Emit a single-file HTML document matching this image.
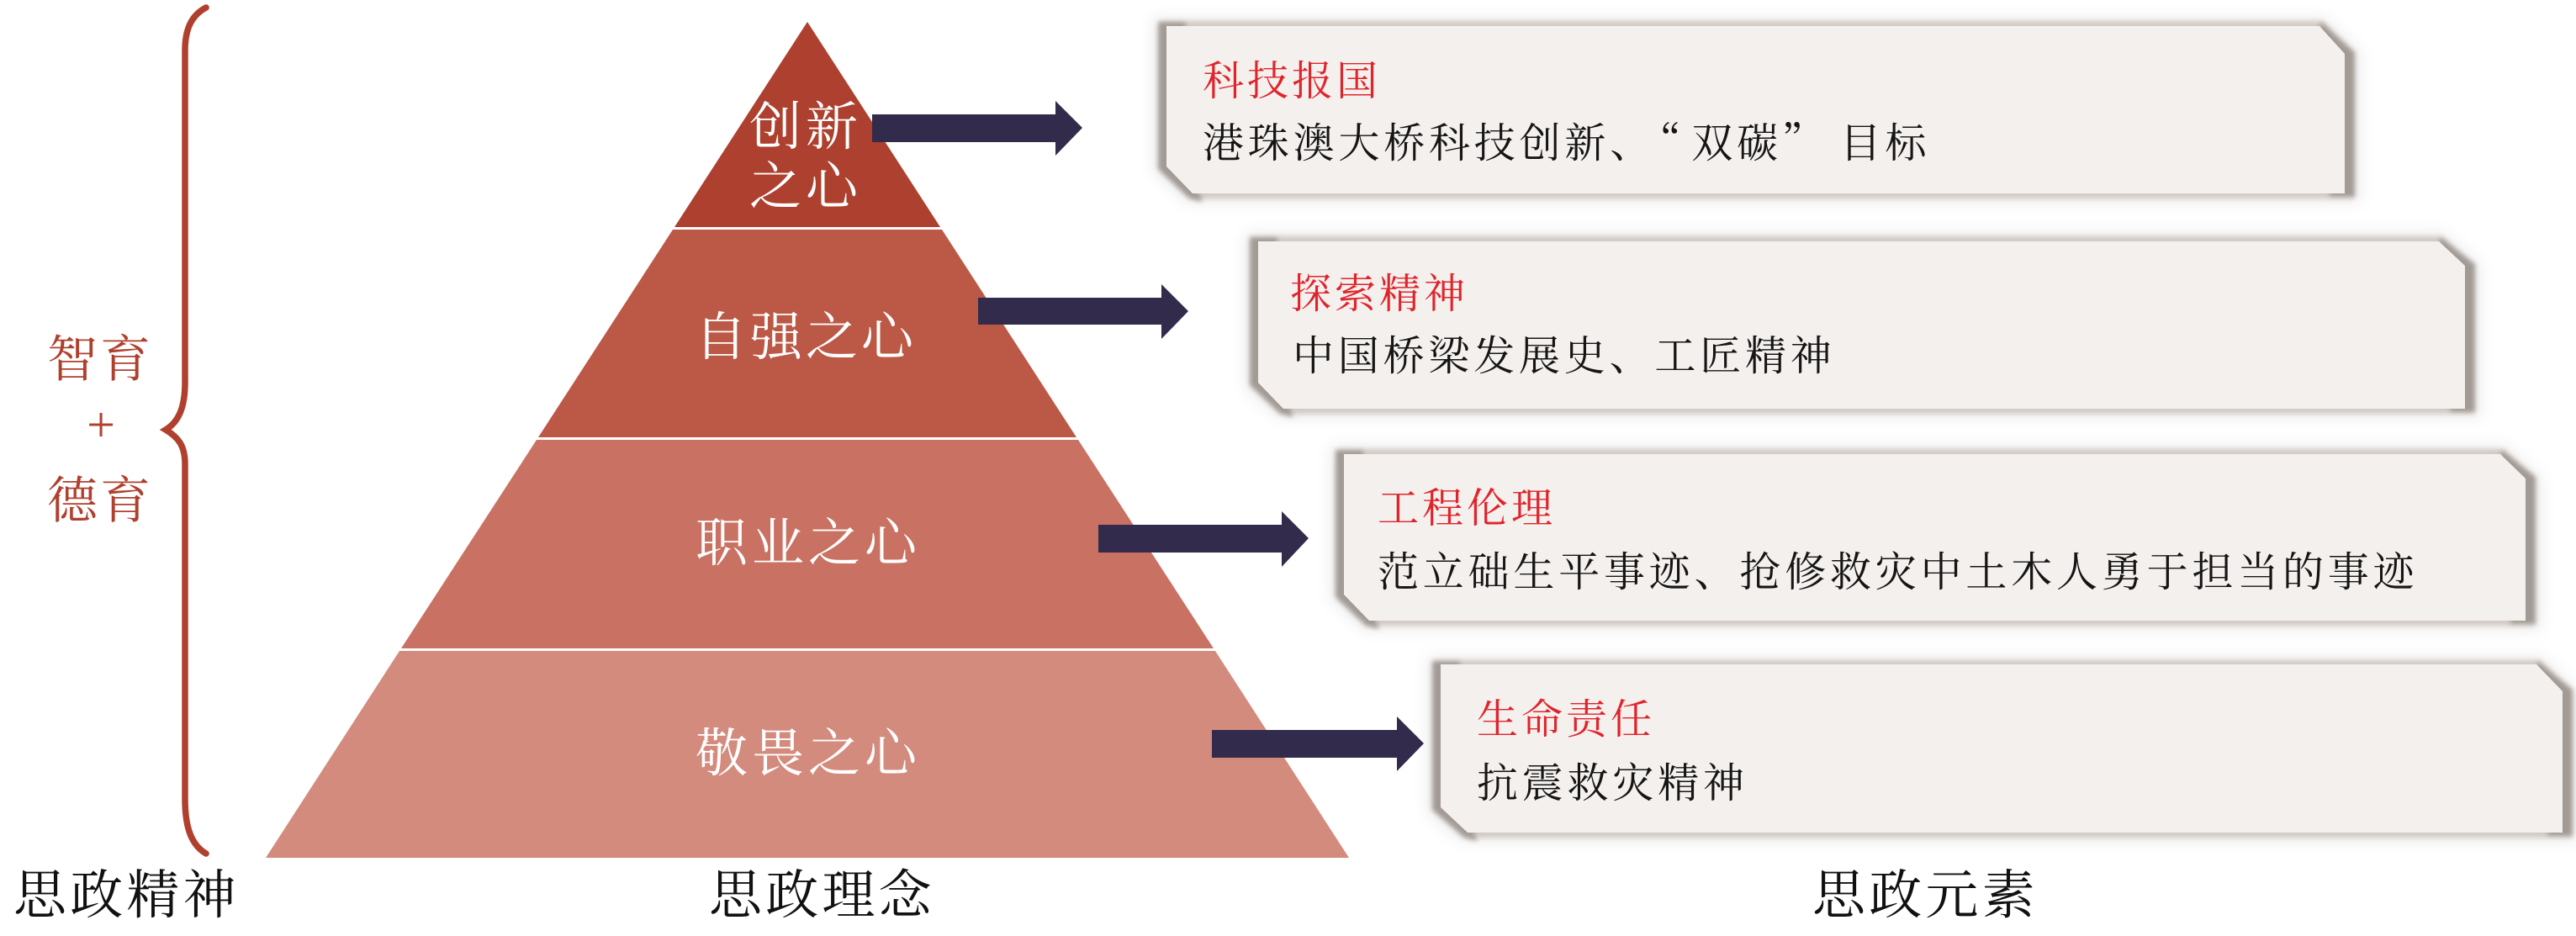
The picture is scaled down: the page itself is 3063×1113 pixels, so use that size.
<!DOCTYPE html>
<html lang="zh"><head><meta charset="utf-8"><title>思政</title>
<style>
html,body{margin:0;padding:0;background:#fff;width:3063px;height:1113px;overflow:hidden}
svg{display:block}
text{font-family:"Noto Serif CJK SC",serif;white-space:pre}
.l{font-size:63px;letter-spacing:4.2px;fill:#111}
.w{font-size:62px;letter-spacing:4px;fill:#fff}
.b{font-size:60px;letter-spacing:3px;fill:#B0402E}
.r{font-size:49px;letter-spacing:4px;fill:#E0242C}
.k{font-size:49px;letter-spacing:4.8px;fill:#151515}
.d{fill:#A29A94}.m{fill:#D2CAC5}.c{fill:#F4F0ED}.g{fill:#8a8480;opacity:.16}
.a{fill:#322B4C}
</style></head><body>
<svg width="3063" height="1113" viewBox="0 0 3063 1113" xmlns="http://www.w3.org/2000/svg">
<defs>
<filter id="s" filterUnits="userSpaceOnUse" x="1300" y="0" width="1763" height="1060"><feGaussianBlur stdDeviation="9"/></filter>
<filter id="t" filterUnits="userSpaceOnUse" x="1300" y="0" width="1763" height="1060"><feGaussianBlur stdDeviation="3"/></filter>
</defs>
<rect width="3063" height="1113" fill="#fff"/>

<!-- brace -->
<path d="M245 9C228 18 220 34 220 60V455C220 485 212 502 197 511C212 520 220 530 220 552V950C220 985 228 1005 245 1015" fill="none" stroke="#B0402E" stroke-width="7.5" stroke-linecap="round"/>

<!-- card 1 -->
<polygon class="g" filter="url(#s)" points="1372,22 2764,22 2806,62 2806,240 1412,240 1372,204"/>
<g filter="url(#t)">
<polygon class="m" points="1378,25 2762,25 2800,64 2800,236 1416,236 1378,201"/>
<polygon class="d" points="1377,26 1410,26 1410,190 1430,240 1414,236 1377,201"/>
<polygon class="d" points="2755,40 2760,26 2800,62 2800,234 2770,234 2770,64"/>
</g>
<polygon class="c" points="1387,31 2758,31 2788,64 2788,230 1418,230 1387,198"/>

<!-- card 2 -->
<polygon class="g" filter="url(#s)" points="1481,278 2906,278 2949,316 2949,496 1520,496 1481,461"/>
<g filter="url(#t)">
<polygon class="m" points="1487,281 2904,281 2943,316 2943,492 1524,492 1487,458"/>
<polygon class="d" points="1486,282 1519,282 1519,447 1538,496 1522,492 1486,458"/>
<polygon class="d" points="2897,296 2902,282 2943,314 2943,490 2913,490 2913,316"/>
</g>
<polygon class="c" points="1496,287 2900,287 2931,316 2931,486 1526,486 1496,455"/>

<!-- card 3 -->
<polygon class="g" filter="url(#s)" points="1583,531 2979,531 3021,569 3021,748 1622,748 1583,713"/>
<g filter="url(#t)">
<polygon class="m" points="1589,534 2977,534 3015,569 3015,744 1626,744 1589,710"/>
<polygon class="d" points="1588,535 1621,535 1621,699 1640,748 1624,744 1588,710"/>
<polygon class="d" points="2970,549 2975,535 3015,567 3015,742 2985,742 2985,569"/>
</g>
<polygon class="c" points="1598,540 2973,540 3003,569 3003,738 1628,738 1598,707"/>

<!-- card 4 -->
<polygon class="g" filter="url(#s)" points="1698,782 3022,782 3065,822 3065,1000 1739,1000 1698,966"/>
<g filter="url(#t)">
<polygon class="m" points="1704,785 3020,785 3059,822 3059,996 1743,996 1704,963"/>
<polygon class="d" points="1703,786 1736,786 1736,952 1757,1000 1741,996 1703,963"/>
<polygon class="d" points="3013,800 3018,786 3059,820 3059,994 3029,994 3029,822"/>
</g>
<polygon class="c" points="1713,790 3016,790 3047,822 3047,990 1745,990 1713,960"/>

<!-- pyramid -->
<polygon fill="#AD402E" points="960,26 1118,270 802,270"/>
<polygon fill="#BC5946" points="800,273 1120,273 1280,520 640,520"/>
<polygon fill="#C97263" points="638,523 1282,523 1443,771 477,771"/>
<polygon fill="#D38B7D" points="475,774 1445,774 1604,1020 316,1020"/>

<!-- arrows -->
<polygon class="a" points="1037,136 1255,136 1255,120 1287,152 1255,185 1255,169 1037,169"/>
<polygon class="a" points="1163,354 1381,354 1381,338 1413,370 1381,403 1381,386 1163,386"/>
<polygon class="a" points="1306,624 1524,624 1524,608 1556,640 1524,674 1524,657 1306,657"/>
<polygon class="a" points="1441,868 1661,868 1661,852 1693,884 1661,917 1661,901 1441,901"/>

<!-- left labels -->
<text class="b" x="56" y="448">智育</text>
<text x="120" y="511" text-anchor="middle" dominant-baseline="middle" style="font-family:'Liberation Serif',serif;font-size:60px;fill:#B0402E">+</text>
<text class="b" x="56" y="616">德育</text>

<!-- pyramid labels -->
<text class="w" x="891" y="172" style="letter-spacing:5px">创新</text>
<text class="w" x="891" y="243" style="letter-spacing:5px">之心</text>
<text class="w" x="826" y="422">自强之心</text>
<text class="w" x="827" y="667" style="letter-spacing:5px">职业之心</text>
<text class="w" x="827" y="917" style="letter-spacing:5px">敬畏之心</text>

<!-- card text -->
<text class="r" x="1430" y="113">科技报国</text>
<text class="k" x="1430" y="187">港珠澳大桥科技创新、<tspan dx="6">“</tspan><tspan dx="8">双碳”</tspan><tspan dx="15">目标</tspan></text>
<text class="r" x="1534" y="366">探索精神</text>
<text class="k" x="1537" y="440">中国桥梁发展史、工匠精神</text>
<text class="r" x="1638" y="621">工程伦理</text>
<text class="k" x="1638" y="697">范立础生平事迹、抢修救灾中土木人勇于担当的事迹</text>
<text class="r" x="1756" y="872">生命责任</text>
<text class="k" x="1756" y="948">抗震救灾精神</text>

<!-- bottom labels -->
<text class="l" x="16" y="1086">思政精神</text>
<text class="l" x="843" y="1086">思政理念</text>
<text class="l" x="2155" y="1086">思政元素</text>
</svg>
</body></html>
